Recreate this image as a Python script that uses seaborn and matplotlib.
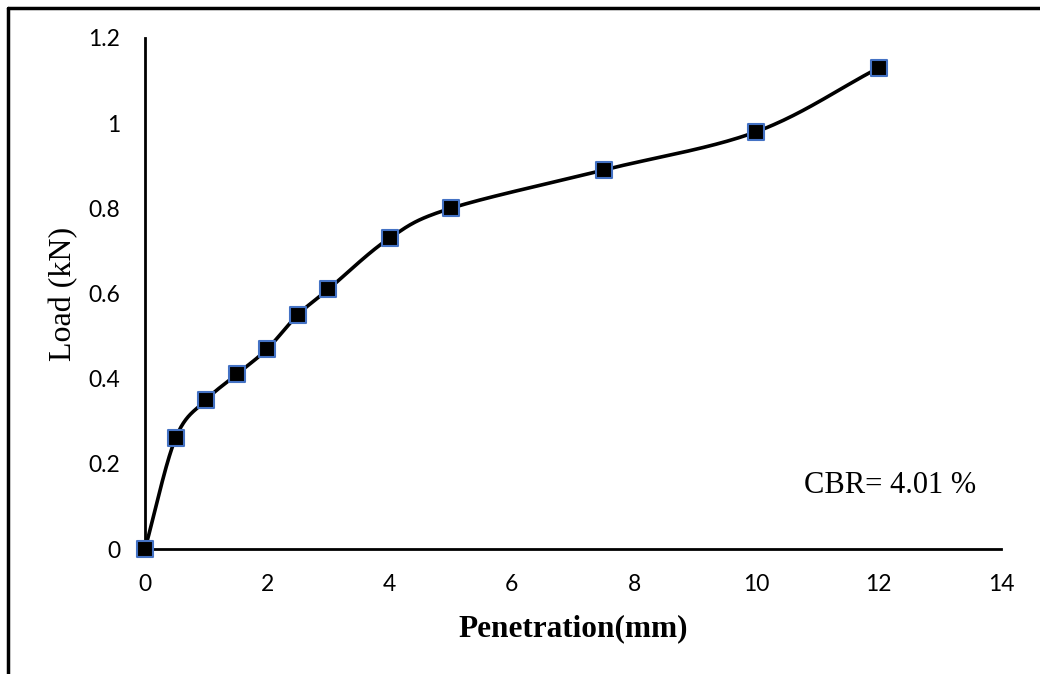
import numpy as np
import pandas as pd
import matplotlib
matplotlib.use("Agg")
import matplotlib.pyplot as plt
from matplotlib.lines import Line2D
import seaborn as sns

penetration = [0, 0.5, 1, 1.5, 2, 2.5, 3, 4, 5, 7.5, 10, 12]
load = [0, 0.26, 0.35, 0.41, 0.47, 0.55, 0.61, 0.73, 0.80, 0.89, 0.98, 1.13]
x_ticks = [0, 2, 4, 6, 8, 10, 12, 14]
y_ticks = [0, 0.2, 0.4, 0.6, 0.8, 1.0, 1.2]
y_tick_labels = ["0", "0.2", "0.4", "0.6", "0.8", "1", "1.2"]

sns.set_theme(style="white")
plt.rcParams['font.family'] = ['Lato', 'DejaVu Sans']


def smooth(xs, ys, n=40):
    # Catmull-Rom style smoothing (Excel-like smoothed line)
    xs = np.asarray(xs, float); ys = np.asarray(ys, float)
    px = np.concatenate([[2 * xs[0] - xs[1]], xs, [2 * xs[-1] - xs[-2]]])
    py = np.concatenate([[2 * ys[0] - ys[1]], ys, [2 * ys[-1] - ys[-2]]])
    ox, oy = [], []
    t = np.linspace(0, 1, n)
    for i in range(1, len(px) - 2):
        p0, p1, p2, p3 = (np.array([px[j], py[j]]) for j in range(i - 1, i + 3))
        c1 = p1 + (p2 - p0) / 6.0
        c2 = p2 - (p3 - p1) / 6.0
        b = ((1 - t) ** 3)[:, None] * p1 + (3 * (1 - t) ** 2 * t)[:, None] * c1 \
            + (3 * (1 - t) * t ** 2)[:, None] * c2 + (t ** 3)[:, None] * p2
        ox.extend(b[:, 0]); oy.extend(b[:, 1])
    return np.array(ox), np.array(oy)


sx, sy = smooth(penetration, load)
curve = pd.DataFrame({"x": sx, "y": sy, "seg": np.arange(len(sx))})
pts = pd.DataFrame({"Penetration": penetration, "Load": load})

fig = plt.figure(figsize=(10.4, 6.74), dpi=100)
ax = fig.add_axes([145 / 1040, 1 - 549 / 674, (1001 - 145) / 1040, (549 - 38) / 674])

sns.lineplot(data=curve, x="x", y="y", sort=False, estimator=None, color="black",
             linewidth=2.6, ax=ax, zorder=2)
sns.scatterplot(data=pts, x="Penetration", y="Load", marker="s", s=125, color="black",
                edgecolor="#4472C4", linewidth=1.5, ax=ax, zorder=3, clip_on=False)

ax.set_xlim(0, 14)
ax.set_ylim(0, 1.2)
ax.set_xticks(x_ticks)
ax.set_xticklabels([str(v) for v in x_ticks])
ax.set_yticks(y_ticks)
ax.set_yticklabels(y_tick_labels)
ax.tick_params(axis="both", direction="in", length=8, width=2, color="black",
               labelsize=16.5, labelcolor="black")
ax.tick_params(axis="y", pad=18)
ax.tick_params(axis="x", pad=18)
for side in ["top", "right"]:
    ax.spines[side].set_visible(False)
for side in ["left", "bottom"]:
    ax.spines[side].set_color("black")
    ax.spines[side].set_linewidth(2)

ax.set_xlabel("Penetration(mm)", family=["Liberation Serif"], fontsize=22.5,
              fontweight="bold", color="black", labelpad=14)
ax.set_ylabel("Load (kN)", family=["Liberation Serif"], fontsize=23,
              color="black", labelpad=7)
ax.text(12.18, 0.148, "CBR= 4.01 %", family=["Liberation Serif"], fontsize=22,
        color="black", ha="center", va="center")

fig.add_artist(Line2D([8 / 1040, 8 / 1040], [1 - 8 / 674, 0], transform=fig.transFigure,
                      color="black", linewidth=2.5))
fig.add_artist(Line2D([8 / 1040, 1], [1 - 8 / 674, 1 - 8 / 674], transform=fig.transFigure,
                      color="black", linewidth=2.5))

fig.savefig("out.png", dpi=100, facecolor="white")
